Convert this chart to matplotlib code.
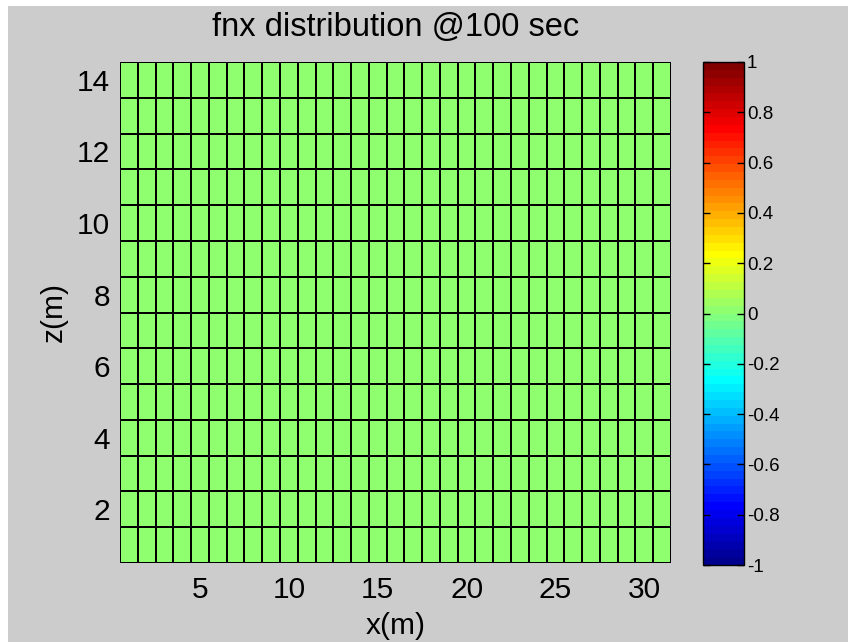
import numpy as np
import matplotlib
matplotlib.use("Agg")
import matplotlib.pyplot as plt
import matplotlib.colors as pltColors
import matplotlib.patches as pltPatches

plt.rcParams["font.family"] = ["Liberation Sans", "DejaVu Sans"]

# MARK: Data

# cell centres (m)
x_m = np.arange(1, 32)
z_m = np.arange(1, 15)
# fnx value of every cell at t = 100 s (all zero)
fnx = np.zeros((len(z_m), len(x_m)))

x_ticks = [5, 10, 15, 20, 25, 30]
z_ticks = [2, 4, 6, 8, 10, 12, 14]
cbar_ticks = [-1, -0.8, -0.6, -0.4, -0.2, 0, 0.2, 0.4, 0.6, 0.8, 1]
cbar_labels = ["-1", "-0.8", "-0.6", "-0.4", "-0.2", "0", "0.2", "0.4", "0.6", "0.8", "1"]


# MARK: Helpers


def matlab_jet(m: int = 64) -> pltColors.ListedColormap:
    "Same table as MATLAB's jet(m)."
    n = int(np.ceil(m / 4))
    u = np.concatenate([np.arange(1, n + 1) / n, np.ones(n - 1), np.arange(n, 0, -1) / n])
    g = int(np.ceil(n / 2)) - (1 if m % 4 == 1 else 0) + np.arange(1, len(u) + 1)
    r = g + n
    b = g - n
    table = np.zeros((m, 3))
    table[r[r <= m] - 1, 0] = u[r <= m]
    table[g[g <= m] - 1, 1] = u[g <= m]
    table[b[b >= 1] - 1, 2] = u[b >= 1]
    return pltColors.ListedColormap(table)


# MARK: Chart

W, H, dpi = 848, 642, 100
bg = (0.8, 0.8, 0.8)

fig = plt.figure(figsize=(W / dpi, H / dpi), dpi=dpi, facecolor=bg)

# white strips at the left and top edge of the screenshot
fig.patches.append(pltPatches.Rectangle((0, 0), 8 / W, 1, transform=fig.transFigure,
                                        facecolor="white", edgecolor="none", zorder=-1))
fig.patches.append(pltPatches.Rectangle((0, 1 - 6 / H), 1, 6 / H, transform=fig.transFigure,
                                        facecolor="white", edgecolor="none", zorder=-1))

ax = fig.add_axes([120 / W, 1 - 563 / H, 551 / W, 501 / H])
cax = fig.add_axes([703 / W, 1 - 565 / H, 41 / W, 503 / H])

mesh = ax.pcolormesh(x_m, z_m, fnx, shading="nearest", cmap=matlab_jet(64),
                     vmin=-1, vmax=1, edgecolors="black", linewidth=1.3)

ax.set_xlim(x_m[0] - 0.5, x_m[-1] + 0.5)
ax.set_ylim(z_m[0] - 0.5, z_m[-1] + 0.5)
ax.set_xticks(x_ticks)
ax.set_yticks(z_ticks)
ax.tick_params(length=0, labelsize=21.5)
ax.tick_params(axis="x", pad=9)
ax.tick_params(axis="y", pad=7)
for s in ax.spines.values():
    s.set_visible(False)

ax.set_xlabel("x(m)", fontsize=21.5, labelpad=6)
ax.set_ylabel("z(m)", fontsize=21.5, labelpad=7)
ax.set_title("fnx distribution @100 sec", fontsize=23.5, pad=19)

cb = fig.colorbar(mesh, cax=cax)
cb.set_ticks(cbar_ticks)
cb.set_ticklabels(cbar_labels)
cb.outline.set_edgecolor("black")
cb.outline.set_linewidth(1.0)
cax.tick_params(direction="in", left=True, right=True, length=5, width=1,
                labelsize=13.5, pad=2)

fig.savefig("out.png", dpi=dpi, facecolor=bg)
plt.close(fig)
